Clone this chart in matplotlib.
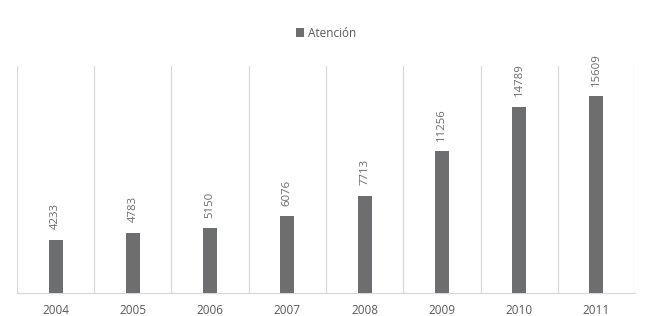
import matplotlib.pyplot as plt
import numpy as np

years = ["2004", "2005", "2006", "2007", "2008", "2009", "2010", "2011"]
atencion = [4233, 4783, 5150, 6076, 7713, 11256, 14789, 15609]

BAR_COLOR = "#6d6e70"
GRID_COLOR = "#d9d9d9"
TEXT_COLOR = "#595959"

plt.rcParams["font.family"] = ["Open Sans", "DejaVu Sans"]

fig = plt.figure(figsize=(6.52, 3.16), dpi=100)
ax = fig.add_axes([0.026, 0.073, 0.948, 0.718])

x = np.arange(len(years))
bars = ax.bar(x, atencion, width=0.18, color=BAR_COLOR, label="Atención", zorder=3)

# value labels, rotated like the original
for xi, v in zip(x, atencion):
    ax.annotate(str(v), (xi, v), xytext=(0, 7.5), textcoords="offset points",
                rotation=90, ha="center", va="bottom", fontsize=8.2, color="#6a6a6a")

ax.set_xlim(-0.5, len(years) - 0.5)
ax.set_ylim(0, 18000)
ax.set_xticks(x)
ax.set_xticklabels(years, fontsize=8.5, color=TEXT_COLOR)
ax.set_yticks([])
ax.tick_params(axis="x", length=0, pad=8)

# vertical separators between categories
for b in np.arange(-0.5, len(years), 1.0):
    ax.axvline(b, color=GRID_COLOR, linewidth=0.9, zorder=1)

for s in ["top", "left", "right"]:
    ax.spines[s].set_visible(False)
ax.spines["bottom"].set_color(GRID_COLOR)
ax.spines["bottom"].set_linewidth(0.9)

fig.legend(handles=[bars], labels=["Atención"], loc="center", bbox_to_anchor=(0.5, 0.895),
           frameon=False, fontsize=8.5, labelcolor=TEXT_COLOR, handlelength=0.7,
           handleheight=0.7, handletextpad=0.3)

fig.savefig("out.png", dpi=100)
